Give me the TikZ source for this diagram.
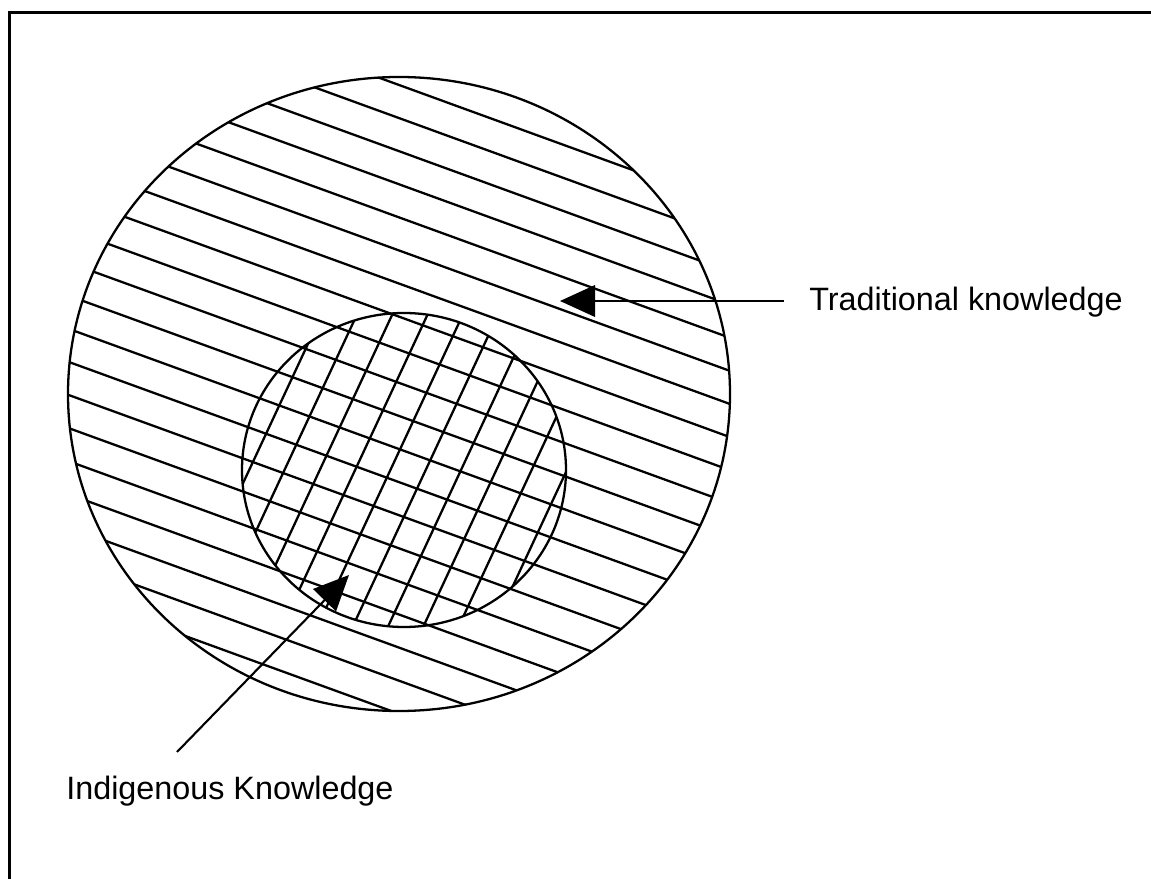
\documentclass[tikz,border=0pt]{standalone}
\usepackage{fontspec}
\setmainfont{Liberation Sans}
\usetikzlibrary{arrows.meta,calc}
\begin{document}
\begin{tikzpicture}[x=0.2mm,y=-0.2mm,
  outline/.style={line width=1.3pt,black},
  hatch/.style={line width=1.3pt,black},
  pointer/.style={line width=1.2pt,black,-{Triangle[length=20pt,width=18pt]}},
  label/.style={anchor=base west,inner sep=0pt,font=\fontsize{18.4}{22}\selectfont}]
\useasboundingbox (0,0) rectangle (1151,879);
% frame
\draw[line width=1.3pt] (9.5,879) -- (9.5,12.5) -- (1151,12.5);
% outer hatching
\begin{scope}
  \clip (399,394) ellipse [x radius=331, y radius=317];
  \foreach \i in {-4,...,17}{
    \pgfmathsetmacro{\cx}{717-\i*31.1*0.342}
    \pgfmathsetmacro{\cy}{300+\i*31.1*0.9397}
    \draw[hatch] (\cx-800*0.9397,\cy-800*0.342) -- (\cx+800*0.9397,\cy+800*0.342);
  }
\end{scope}
% inner cross hatching
\begin{scope}
  \clip (404,470) ellipse [x radius=162, y radius=157];
  \foreach \i in {-3,...,8}{
    \pgfmathsetmacro{\cx}{393+\i*32*0.9063}
    \pgfmathsetmacro{\cy}{313+\i*32*0.4226}
    \draw[hatch] (\cx+500*0.4226,\cy-500*0.9063) -- (\cx-500*0.4226,\cy+500*0.9063);
  }
\end{scope}
\draw[outline] (399,394) ellipse [x radius=331, y radius=317];
\draw[outline] (404,470) ellipse [x radius=162, y radius=157];
% labels
\node[label] (tk) at (809,311) {Traditional knowledge};
\node[label] (ik) at (66,800) {Indigenous Knowledge};
\coordinate (tkstart) at (784,301);
\coordinate (tktip) at (560,301);
\coordinate (ikstart) at (177,752);
\coordinate (iktip) at (349,575);
\draw[pointer] (tkstart) -- (tktip);
\draw[pointer] (ikstart) -- (iktip);
\end{tikzpicture}
\end{document}
